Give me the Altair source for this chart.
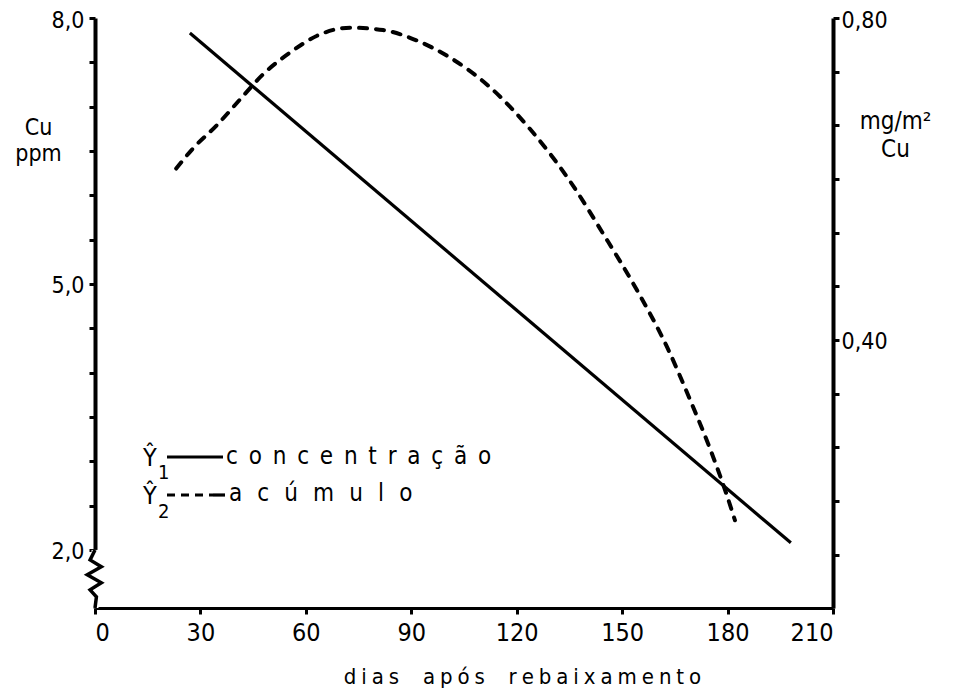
import altair as alt
import pandas as pd

# ---- data ----
# Ŷ1 concentração (Cu ppm, left axis) - straight regression line
conc_days = [27, 198]
conc_vals = [7.83, 2.08]

# Ŷ2 acúmulo (mg/m² Cu, right axis) - dashed curve
acum_days = [23.1, 27.9, 34.7, 41.3, 47.8, 55.5, 63.2, 72.6, 82.0, 91.6, 100.2,
             112.4, 123.8, 135.2, 144.6, 154.2, 162.8, 169.3, 175.0, 179.8, 182.1]
acum_vals = [0.613, 0.638, 0.667, 0.699, 0.730, 0.757, 0.778, 0.788, 0.785, 0.772, 0.753,
             0.714, 0.662, 0.597, 0.532, 0.462, 0.391, 0.326, 0.265, 0.207, 0.176]

x_ticks = [0, 30, 60, 90, 120, 150, 180, 210]
left_ticks = [2.0, 2.5, 3.0, 3.5, 4.0, 4.5, 5.0, 5.5, 6.0, 6.5, 7.0, 7.5, 8.0]
right_ticks = [0.8, 0.7333, 0.6667, 0.6, 0.5333, 0.4667, 0.4, 0.3333, 0.2667, 0.2, 0.1333]

# axis-break zigzag on the left axis (below 2,0)
break_x = [0.0, -1.4, 1.8, -2.2, 1.8, -1.4, 0.4, 0.0]
break_y = [2.0, 1.887, 1.81, 1.72, 1.63, 1.55, 1.47, 1.345]

FONT = "DejaVu Sans Condensed, DejaVu Sans"
EN = "\u2002"    # en space
QUARTER = "\u2005"  # four-per-em space
THIN = "\u2009"  # thin space


def spaced(s, sep=EN):
    return sep.join(list(s))


x_title = (EN + EN + THIN).join(spaced(w, QUARTER) for w in ["dias", "após", "rebaixamento"])

conc_df = pd.DataFrame({"dias": conc_days, "cu": conc_vals})
acum_df = pd.DataFrame({"dias": acum_days, "acum": acum_vals})
break_df = pd.DataFrame({"dias": break_x, "cu": break_y, "o": list(range(len(break_x)))})
one = pd.DataFrame({"a": [0]})

xscale = alt.Scale(domain=[0, 210], nice=False, zero=False)
yl_scale = alt.Scale(domain=[1.345, 8.0], nice=False, zero=False)
yr_scale = alt.Scale(domain=[0.067, 0.80], nice=False, zero=False)

x_axis = alt.Axis(values=x_ticks, title=x_title,
                  titleFontSize=22, titleFontWeight="normal", titleFont=FONT,
                  titleX=427, titleY=68, titleBaseline="middle", titleAlign="center",
                  labelFontSize=25, labelPadding=6, domainWidth=3)

left_axis = alt.Axis(values=left_ticks, orient="left",
                     labelExpr="datum.value==8 ? '8,0' : datum.value==5 ? '5,0' : datum.value==2 ? '2,0' : ''",
                     title=["Cu", "ppm"], titleAngle=0, titleX=-57, titleY=109,
                     titleAlign="center", titleBaseline="middle", titleFontSize=23,
                     titleFontWeight="normal", titleFont=FONT, titleLineHeight=26,
                     labelFontSize=23, labelPadding=5, labelOffset=2)

right_axis = alt.Axis(values=right_ticks, orient="right",
                      labelExpr="abs(datum.value-0.8)<0.001 ? '0,80' : abs(datum.value-0.4)<0.001 ? '0,40' : ''",
                      title=["mg/m²", "Cu"], titleAngle=0, titleX=62, titleY=103,
                      titleAlign="center", titleBaseline="middle", titleFontSize=24,
                      titleFontWeight="normal", titleFont=FONT, titleLineHeight=28,
                      labelFontSize=23, labelPadding=2, labelOffset=2)

X = alt.X("dias:Q", scale=xscale, axis=x_axis)
YL = alt.Y("cu:Q", scale=yl_scale, axis=left_axis)

conc_line = alt.Chart(conc_df).mark_line(color="black", strokeWidth=3.2).encode(x=X, y=YL)

break_cover = alt.Chart(break_df).mark_line(color="white", strokeWidth=7).encode(
    x=X, y=YL, order="o:Q",
).transform_filter("datum.o==0 || datum.o==7")

break_line = alt.Chart(break_df).mark_line(color="black", strokeWidth=3.5).encode(
    x=X, y=YL, order="o:Q",
)


# legend (drawn by hand, as in the original figure)
def txt(s, x, y, size):
    return alt.Chart(one).mark_text(text=s, font=FONT, fontSize=size, align="left",
                                    baseline="alphabetic", color="black").encode(
        x=alt.value(x), y=alt.value(y))


leg = [
    txt("Ŷ", 48, 448, 25), txt("1", 63, 461, 20),
    txt(spaced("concentração"), 131, 446, 24),
    txt("Ŷ", 48, 486, 25), txt("2", 63, 500, 20),
    txt(spaced("acúmulo", EN + THIN), 134, 483, 24),
    alt.Chart(one).mark_rule(color="black", strokeWidth=3.2).encode(
        x=alt.value(72), x2=alt.value(128), y=alt.value(439)),
    alt.Chart(one).mark_rule(color="black", strokeWidth=3.2, strokeDash=[8, 6]).encode(
        x=alt.value(72), x2=alt.value(118), y=alt.value(477)),
    alt.Chart(one).mark_rule(color="black", strokeWidth=3.2).encode(
        x=alt.value(118), x2=alt.value(130), y=alt.value(477)),
]

left_layer = alt.layer(conc_line, break_cover, break_line, *leg)

acum_line = alt.Chart(acum_df).mark_line(color="black", strokeWidth=4, strokeDash=[8, 9],
                                         strokeCap="round", interpolate="monotone").encode(
    x=X,
    y=alt.Y("acum:Q", scale=yr_scale, axis=right_axis),
)

chart = alt.layer(left_layer, acum_line).resolve_scale(y="independent").properties(
    width=738, height=590,
    autosize=alt.AutoSizeParams(type="none"),
    padding={"left": 87, "top": 10, "right": 110, "bottom": 83},
).configure_view(stroke=None).configure_axis(
    grid=False, domainColor="black", domainWidth=4, tickColor="black", tickWidth=3,
    tickSize=6, labelColor="black", labelFont=FONT, titleColor="black",
)

chart.save("out.html", embed_options={"renderer": "svg", "actions": False})
